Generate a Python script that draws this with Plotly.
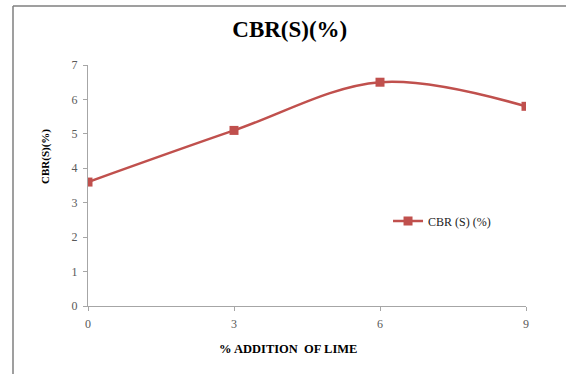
import plotly.graph_objects as go

# Lime content (%) and soaked CBR (%)
lime_pct = [0, 3, 6, 9]
cbr_soaked = [3.6, 5.1, 6.5, 5.8]
series_name = "CBR (S) (%)"
x_ticks = [0, 3, 6, 9]
y_ticks = [0, 1, 2, 3, 4, 5, 6, 7]

red = "#C0504D"
axis_grey = "#A6A6A6"
label_grey = "#595959"
serif = "Liberation Serif, Times New Roman, serif"

fig = go.Figure()
fig.add_trace(go.Scatter(
    x=lime_pct, y=cbr_soaked, name=series_name,
    mode="lines+markers",
    line=dict(color=red, width=2.5, shape="spline", smoothing=1),
    marker=dict(symbol="square", size=9, color=red),
))

axis_style = dict(showgrid=False, zeroline=False,
                  showline=True, linecolor=axis_grey, linewidth=1,
                  ticks="outside", ticklen=4, tickcolor=axis_grey,
                  ticklabelstandoff=3,
                  tickfont=dict(family=serif, size=12, color=label_grey))

fig.update_layout(
    width=566, height=374,
    margin=dict(l=88, r=40, t=65, b=68),
    paper_bgcolor="white", plot_bgcolor="white",
    font=dict(family=serif, color=label_grey, size=12),
    title=dict(text="<b>CBR(S)(%)</b>", x=0.512, xanchor="center",
               y=0.922, yanchor="middle",
               font=dict(family=serif, size=23, color="black")),
    showlegend=True,
    legend=dict(x=0.685, y=0.353, xanchor="left", yanchor="middle",
                bgcolor="rgba(0,0,0,0)", itemwidth=30,
                font=dict(family=serif, size=12, color="#222")),
    xaxis=dict(range=[0, 9], tickvals=x_ticks, **axis_style),
    yaxis=dict(range=[0, 7], tickvals=y_ticks, **axis_style),
    annotations=[
        dict(text="<b>% ADDITION  OF LIME</b>", xref="paper", yref="paper",
             x=(288 - 88) / 438, y=(306 - 349) / 241, showarrow=False,
             xanchor="center", yanchor="middle",
             font=dict(family=serif, size=12.5, color="black")),
        dict(text="<b>CBR(S)(%)</b>", xref="paper", yref="paper",
             x=(45 - 88) / 438, y=(306 - 157) / 241, showarrow=False,
             textangle=-90, xanchor="center", yanchor="middle",
             font=dict(family=serif, size=11, color="black")),
    ],
    shapes=[
        dict(type="line", xref="paper", yref="paper",
             x0=(13 - 88) / 438, x1=(13 - 88) / 438,
             y0=(306 - 6) / 241, y1=(306 - 380) / 241,
             line=dict(color="#7F7F7F", width=1.5)),
        dict(type="line", xref="paper", yref="paper",
             x0=(13 - 88) / 438, x1=(570 - 88) / 438,
             y0=(306 - 6) / 241, y1=(306 - 6) / 241,
             line=dict(color="#7F7F7F", width=1.5)),
    ],
)

fig.write_html("out.html")
